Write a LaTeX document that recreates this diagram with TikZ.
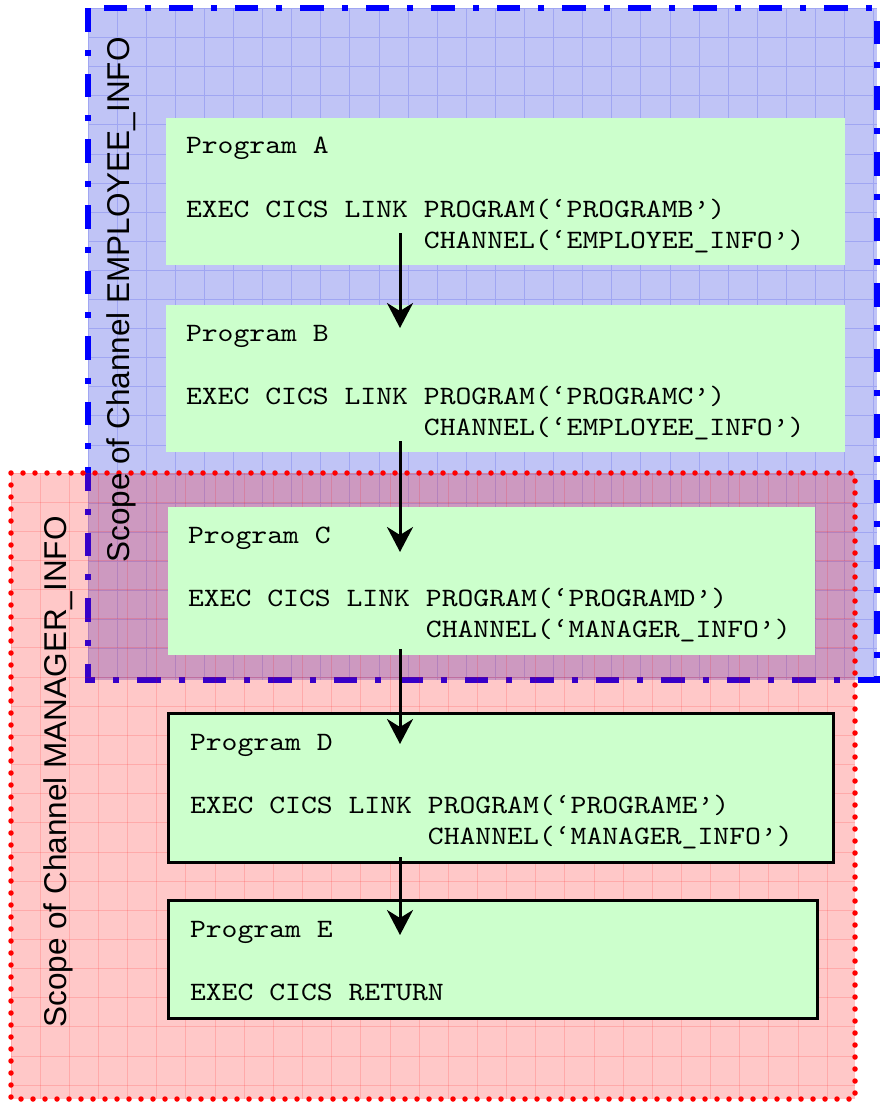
\documentclass[tikz,border=0pt]{standalone}
\usepackage{fontspec}
\setsansfont{Liberation Sans}
\newfontfamily\codefont{lmmono10-regular.otf}[FakeStretch=1.14]
\usetikzlibrary{positioning, arrows.meta}

\definecolor{progfill}{RGB}{204,255,204}
\definecolor{empfill}{RGB}{192,196,246}
\definecolor{empgrid}{RGB}{160,166,242}
\definecolor{empline}{RGB}{0,0,255}
\definecolor{mgrline}{RGB}{255,0,0}

% one blank column of the code font
\newcommand\cb{\hphantom{X}}

\begin{document}
\begin{tikzpicture}[
  x = 1pt, y = -1pt,
  prog/.style = {fill=progfill, anchor=north west, outer sep=0pt,
                 inner xsep=20pt, inner ysep=0pt, align=left,
                 text height=36pt,
                 font=\codefont\fontsize{26.5}{31.5}\selectfont},
  progline/.style = {prog, draw=black, line width=3pt, inner xsep=22pt,
                     text height=37pt},
  scopetext/.style = {anchor=base, rotate=90, inner sep=0pt,
                      font=\sffamily\fontsize{31.5}{36}\selectfont},
  arr/.style = {-{Stealth[length=25pt, width=26pt, inset=8pt]}, line width=3pt}
]

\useasboundingbox (0,0) rectangle (880,1102);

% scope of EMPLOYEE_INFO
\fill[empfill] (88,8.5) rectangle (877,680);
\begin{scope}
  \clip (88,8.5) rectangle (877,680);
  \foreach \k in {0,...,27}
    \draw[empgrid, line width=.9pt] ({88+29.1*\k},8.5) -- ({88+29.1*\k},680);
  \foreach \k in {0,...,23}
    \draw[empgrid, line width=.9pt] (88,{8.5+29.1*\k}) -- (877,{8.5+29.1*\k});
\end{scope}
\draw[empline, line width=6pt, dash pattern=on 23.5pt off 18pt on 6pt off 18pt]
  (88,8.5) rectangle (877,680);

% scope of MANAGER_INFO
\fill[red, opacity=.216] (11,473) rectangle (855,1099);
\begin{scope}
  \clip (11,473) rectangle (855,1099);
  \foreach \k in {0,...,29}
    \draw[red, opacity=.15, line width=.9pt] ({11+29.15*\k},473) -- ({11+29.15*\k},1099);
  \foreach \k in {0,...,21}
    \draw[red, opacity=.15, line width=.9pt] (11,{473+29.15*\k}) -- (855,{473+29.15*\k});
\end{scope}
\draw[mgrline, line width=5.5pt, line cap=round, dash pattern=on 0pt off 12pt]
  (11,473) rectangle (855,1099);

\node[scopetext] (empscope) at (129,300) {Scope of Channel EMPLOYEE\_INFO};
\node[scopetext] (mgrscope) at (66,772) {Scope of Channel MANAGER\_INFO};

% programs
\node[prog, text width=639pt, text depth=111pt] (A) at (166,118)
  {Program\cb A\\[31.5pt]EXEC\cb CICS\cb LINK\cb PROGRAM(‘PROGRAMB’)\\
   \hphantom{XXXXXXXXXXXXXXX}CHANNEL(‘EMPLOYEE\_INFO’)};
\node[prog, text width=639pt, text depth=111pt,
      below=40pt of A.south west, anchor=north west] (B)
  {Program\cb B\\[31.5pt]EXEC\cb CICS\cb LINK\cb PROGRAM(‘PROGRAMC’)\\
   \hphantom{XXXXXXXXXXXXXXX}CHANNEL(‘EMPLOYEE\_INFO’)};
\node[prog, text width=607pt, text depth=112pt,
      below=55pt of B.south west, anchor=north west, xshift=2pt] (C)
  {Program\cb C\\[31.5pt]EXEC\cb CICS\cb LINK\cb PROGRAM(‘PROGRAMD’)\\
   \hphantom{XXXXXXXXXXXXXXX}CHANNEL(‘MANAGER\_INFO’)};
\node[progline, text width=621pt, text depth=112pt,
      below=58pt of C.south west, anchor=north west] (D)
  {Program\cb D\\[31.5pt]EXEC\cb CICS\cb LINK\cb PROGRAM(‘PROGRAME’)\\
   \hphantom{XXXXXXXXXXXXXXX}CHANNEL(‘MANAGER\_INFO’)};
\node[progline, text width=605pt, text depth=81pt,
      below=38pt of D.south west, anchor=north west] (E)
  {Program\cb E\\[31.5pt]EXEC\cb CICS\cb RETURN};

\coordinate (col) at (400,0);

\draw[arr] ([yshift=32pt]A.south -| col) -- ([yshift=-23pt]B.north -| col);
\draw[arr] ([yshift=11pt]B.south -| col) -- ([yshift=-45pt]C.north -| col);
\draw[arr] ([yshift=6pt]C.south -| col) -- ([yshift=-31pt]D.north -| col);
\draw[arr] ([yshift=5pt]D.south -| col) -- ([yshift=-35pt]E.north -| col);

\end{tikzpicture}
\end{document}
